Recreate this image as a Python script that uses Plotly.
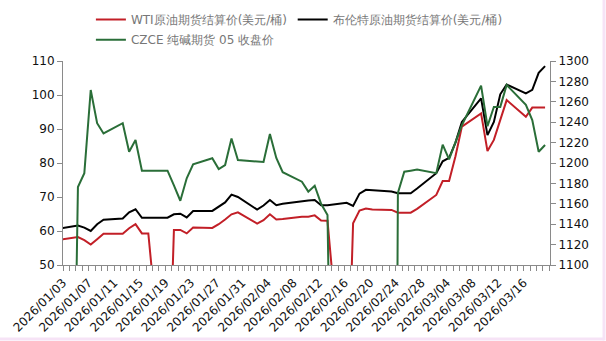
import pandas as pd
import plotly.graph_objects as go

# trading days (UTC dates)
dates = [
    "2026-01-02", "2026-01-05", "2026-01-06", "2026-01-07", "2026-01-08", "2026-01-09",
    "2026-01-12", "2026-01-13", "2026-01-14", "2026-01-15", "2026-01-16",
    "2026-01-19", "2026-01-20", "2026-01-21", "2026-01-22", "2026-01-23",
    "2026-01-26", "2026-01-27", "2026-01-28", "2026-01-29", "2026-01-30",
    "2026-02-02", "2026-02-03", "2026-02-04", "2026-02-05", "2026-02-06",
    "2026-02-09", "2026-02-10", "2026-02-11", "2026-02-12", "2026-02-13",
    "2026-02-16", "2026-02-17", "2026-02-18", "2026-02-19", "2026-02-20",
    "2026-02-23", "2026-02-24", "2026-02-25", "2026-02-26", "2026-02-27",
    "2026-03-02", "2026-03-03", "2026-03-04", "2026-03-05", "2026-03-06",
    "2026-03-09", "2026-03-10", "2026-03-11", "2026-03-12", "2026-03-13",
    "2026-03-16", "2026-03-17", "2026-03-18", "2026-03-19",
]

wti = [
    57.4, 58.2, 57.3, 56.0, 57.6, 59.2,
    59.2, 60.8, 62.0, 59.3, 59.3,
    0, 60.3, 60.3, 59.3, 61.0,
    60.9, 62.0, 63.4, 64.9, 65.5,
    62.2, 63.2, 64.9, 63.4, 63.5,
    64.2, 64.2, 64.6, 63.1, 63.0,
    0, 62.3, 66.0, 66.6, 66.3,
    66.2, 65.4, 65.4, 65.4, 66.5,
    70.6, 74.7, 74.7, 82.0, 90.7,
    94.6, 83.5, 86.8, 93.0, 98.5,
    93.6, 96.3, 96.3, 96.3,
]

brent = [
    60.7, 61.6, 61.0, 60.0, 62.0, 63.3,
    63.7, 65.5, 66.4, 63.9, 63.9,
    63.9, 64.9, 65.1, 64.0, 65.9,
    65.9, 67.2, 68.4, 70.7, 70.0,
    66.3, 67.5, 69.1, 67.6, 68.0,
    68.9, 69.0, 69.1, 67.6, 67.6,
    68.3, 67.4, 71.0, 72.1, 72.0,
    71.6, 71.1, 71.1, 71.1, 72.5,
    77.0, 80.5, 81.5, 86.0, 92.1,
    99.0, 88.2, 92.1, 100.2, 103.1,
    100.5, 101.5, 106.5, 108.5,
]

czce = [
    0, 1176.5, 1190, 1271.6, 1239, 1229,
    1239, 1211, 1222.5, 1192.5, 1192.5,
    1192.5, 1178, 1163, 1185, 1198.7,
    1204.6, 1194, 1198, 1224, 1203,
    1202, 1201, 1228.4, 1205, 1191,
    1181.7, 1171.9, 1177.7, 1160, 1149,
    0, 0, 0, 0, 0,
    0, 1170.6, 1191.5, 1192.5, 1193.5,
    1190, 1218, 1203.6, 1220, 1237,
    1275.8, 1236, 1255, 1255, 1276.5,
    1257, 1242, 1211, 1217.6,
]

tick_dates = pd.date_range("2026-01-03", "2026-03-16", freq="4D")
tick_labels = [d.strftime("%Y/%m/%d") for d in tick_dates]

names = [
    "WTI原油期货结算价(美元/桶)",
    "布伦特原油期货结算价(美元/桶)",
    "CZCE 纯碱期货 05 收盘价",
]

# data stamped in UTC, displayed in UTC+8
x = pd.to_datetime(dates) + pd.Timedelta(hours=8)

FONT = "DejaVu Sans"
AX = "#8a8a8a"

fig = go.Figure()
fig.add_trace(go.Scatter(x=x, y=wti, name=names[0], mode="lines",
                         line=dict(color="#c21f27", width=2), legend="legend"))
fig.add_trace(go.Scatter(x=x, y=brent, name=names[1], mode="lines",
                         line=dict(color="#000000", width=2), legend="legend2"))
fig.add_trace(go.Scatter(x=x, y=czce, name=names[2], mode="lines", yaxis="y2",
                         line=dict(color="#2a6e38", width=2), legend="legend3"))

leg_common = dict(orientation="h", bgcolor="rgba(0,0,0,0)", borderwidth=0,
                  font=dict(family=FONT, size=12, color="#777777"),
                  xref="container", yref="container",
                  xanchor="left", yanchor="middle")

fig.update_layout(
    width=606, height=341,
    margin=dict(l=63, r=56, t=61, b=76, autoexpand=False),
    paper_bgcolor="white", plot_bgcolor="white",
    font=dict(family=FONT, size=12, color="#111111"),
    showlegend=True,
    legend=dict(x=0.150, y=0.9428, **leg_common),
    legend2=dict(x=0.483, y=0.9428, **leg_common),
    legend3=dict(x=0.150, y=0.8835, **leg_common),
    xaxis=dict(
        type="date", range=["2026-01-03", "2026-03-20 02:30"], automargin=False,
        tickmode="array", tickvals=tick_dates, ticktext=tick_labels,
        tickangle=-45, ticks="outside", ticklen=5, tickcolor=AX,
        minor=dict(ticks="outside", ticklen=5, tickcolor=AX,
                   dtick=86400000, tick0="2026-01-03"),
        showline=True, linecolor=AX, linewidth=1, showgrid=False, zeroline=False,
        tickfont=dict(family=FONT, size=12, color="#111111"),
    ),
    yaxis=dict(
        range=[50, 110], dtick=10, tick0=50, ticks="outside", ticklen=5, tickcolor=AX,
        automargin=False,
        showline=True, linecolor=AX, linewidth=1, showgrid=False, zeroline=False,
        tickfont=dict(family=FONT, size=12, color="#111111"),
    ),
    yaxis2=dict(
        range=[1100, 1300], dtick=20, tick0=1100, overlaying="y", side="right",
        automargin=False,
        ticks="outside", ticklen=5, tickcolor=AX,
        showline=True, linecolor=AX, linewidth=1, showgrid=False, zeroline=False,
        tickfont=dict(family=FONT, size=12, color="#111111"),
    ),
    shapes=[
        dict(type="line", xref="paper", yref="paper", x0=1.1109, x1=1.1109,
             y0=-0.37, y1=1.30, line=dict(color="#f6e3f6", width=3)),
        dict(type="line", xref="paper", yref="paper", x0=-0.13, x1=1.1109,
             y0=-0.3627, y1=-0.3627, line=dict(color="#f6e3f6", width=3)),
    ],
)

fig.write_html("out.html")
